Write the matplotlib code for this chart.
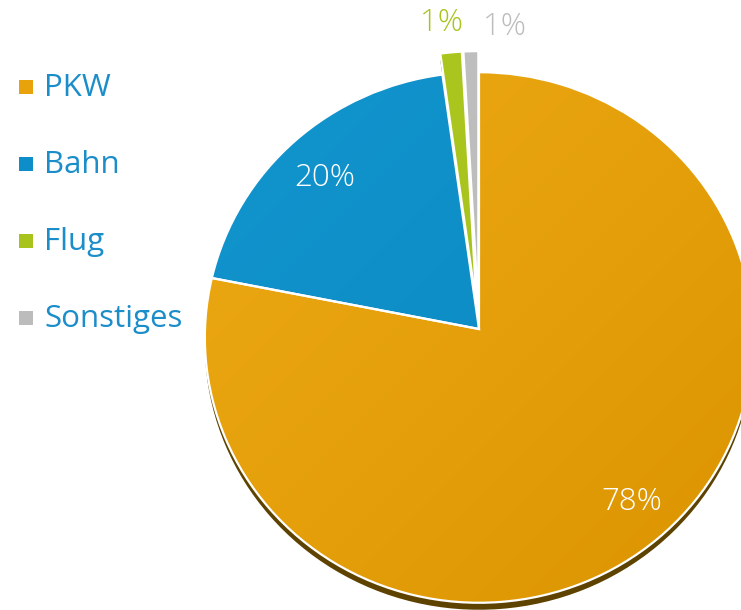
import numpy as np
import matplotlib
matplotlib.use('Agg')
import matplotlib.pyplot as plt
from matplotlib.transforms import Transform, Affine2D
from matplotlib.colors import LinearSegmentedColormap
from matplotlib.patches import Rectangle

categories = ['PKW', 'Bahn', 'Flug', 'Sonstiges']
shares = [78.1, 19.7, 1.3, 0.9]

colors = ['#e8a20c', '#0e8ec8', '#a8c41c', '#bcbcbc']
light = ['#eeab15', '#1295cf', '#adc921', '#c1c1c1']
dark = ['#db9400', '#0a86bd', '#a3bd17', '#b7b7b7']
explode = [0, 0, 0.085, 0.085]
legend_color = '#1b8dc9'

plt.rcParams['font.family'] = ['Open Sans', 'DejaVu Sans']


class Perspective(Transform):
    """slightly tilted disc: far side (top) a bit smaller than near side"""
    input_dims = 2
    output_dims = 2
    is_separable = False
    has_inverse = False

    def __init__(self, cx, cy, rx, ry, k):
        super().__init__()
        self.cx, self.cy, self.rx, self.ry, self.k = cx, cy, rx, ry, k

    def transform_non_affine(self, values):
        values = np.asarray(values, dtype=float).reshape(-1, 2)
        u, v = values[:, 0], values[:, 1]
        s = 1.0 / (1.0 + self.k * v)
        return np.column_stack([self.cx + self.rx * u * s, self.cy + self.ry * v * s])


W, H = 741, 610
fig = plt.figure(figsize=(W / 100, H / 100), dpi=100)
ax = fig.add_axes([0, 0, 1, 1])

persp = Perspective(479, H - 329, 274, 265, 0.032)

# shadow underneath
sw, _ = ax.pie(shares, explode=explode, startangle=90, counterclock=False,
               colors=['#5e4300'] * 4, wedgeprops=dict(linewidth=0))
shadow_tr = persp + Affine2D().translate(0, -7) + ax.transData
for w in sw:
    w.set_transform(shadow_tr)
    w.set_zorder(1)

wedges, texts, autotexts = ax.pie(
    shares, explode=explode, startangle=90, counterclock=False,
    colors=colors, autopct='%.0f%%', pctdistance=0.84,
    wedgeprops=dict(edgecolor='white', linewidth=1.6),
    textprops=dict(color='white', fontsize=22.5, fontweight='light'))

tr = persp + ax.transData
yy, xx = np.mgrid[0:1:64j, 0:1:64j]
grad = (xx + (1 - yy)) / 2
for i, w in enumerate(wedges):
    w.set_transform(tr)
    w.set_facecolor('none')
    w.set_zorder(3)
    cmap = LinearSegmentedColormap.from_list('g%d' % i, [light[i], dark[i]])
    im = ax.imshow(grad, cmap=cmap, origin='lower', extent=(200, 760, 0, 560),
                   interpolation='bilinear', zorder=2, aspect='auto')
    im.set_clip_path(w)

for t in autotexts:
    t.set_zorder(4)
# nudge the inside labels to where the original has them
autotexts[0].set_transform(persp + Affine2D().translate(4, 3) + ax.transData)
autotexts[1].set_transform(persp + Affine2D().translate(1, -8) + ax.transData)

# small slices get their labels outside, in the slice colour
offsets = {2: (-7, 4), 3: (34, -2)}
for i, (dx, dy) in offsets.items():
    autotexts[i].set_visible(False)
    w = wedges[i]
    mid = np.deg2rad((w.theta1 + w.theta2) / 2)
    ax.annotate(autotexts[i].get_text(),
                xy=(1.19 * np.cos(mid), 1.19 * np.sin(mid)), xycoords=tr,
                xytext=(dx, dy), textcoords='offset pixels',
                ha='center', va='center', color=colors[i], fontsize=22.5,
                fontweight='light')

# legend on the left
for i, name in enumerate(categories):
    base = H - (96 + 77 * i)
    ax.add_patch(Rectangle((18.5, base + 2.5), 14, 14, facecolor=colors[i],
                           edgecolor='none', zorder=5))
    ax.text(44, base, name, color=legend_color, fontsize=22.5,
            ha='left', va='baseline', zorder=5)

ax.set_xlim(0, W)
ax.set_ylim(0, H)
ax.set_aspect('auto')
ax.axis('off')

fig.savefig('out.png', dpi=100)
